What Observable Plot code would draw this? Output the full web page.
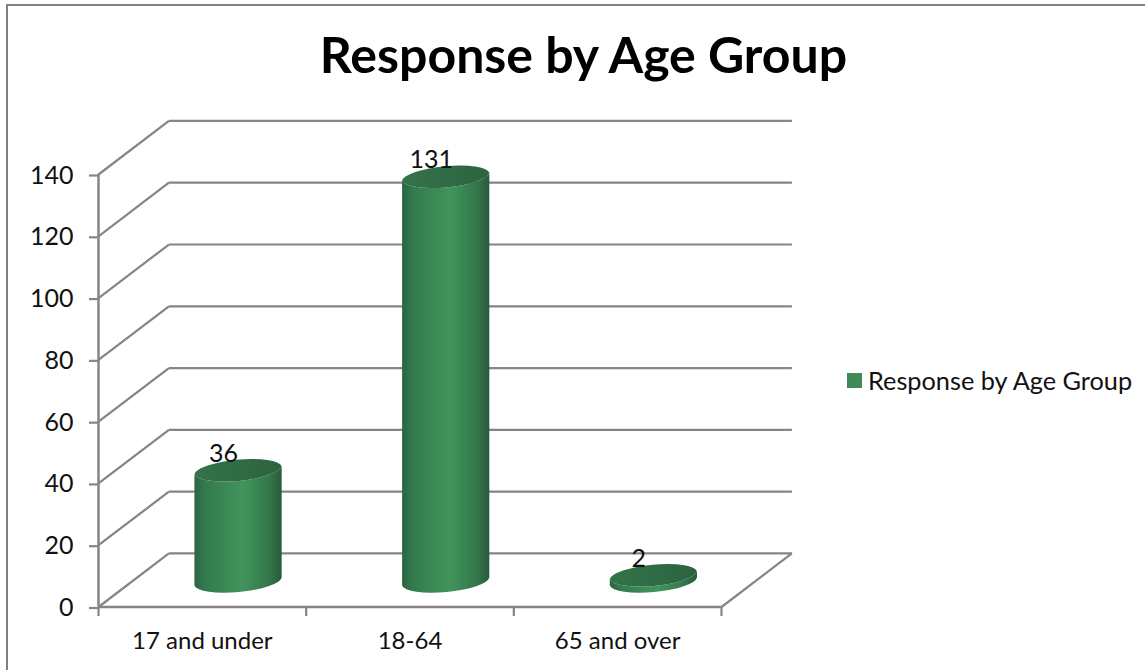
<!DOCTYPE html>
<html>
<head>
<meta charset="utf-8">
<script src="https://cdn.jsdelivr.net/npm/d3@7"></script>
<script src="https://cdn.jsdelivr.net/npm/@observablehq/plot@0.6"></script>
<style>
  html, body { margin: 0; padding: 0; background: #fff; }
  #chart { position: relative; width: 1145px; height: 670px; overflow: hidden; font-family: Lato, sans-serif; color: #111; }
  #edge { position: absolute; left: 6px; top: 4px; right: -4px; bottom: -4px; border-left: 2.5px solid #808080; border-top: 2.5px solid #808080; }
  #title { position: absolute; left: 583.5px; top: 26px; transform: translateX(-50%); white-space: nowrap; font-size: 50px; font-weight: 700; line-height: 56px; color: #000; }
  #legend { position: absolute; left: 847px; top: 364px; display: flex; align-items: center; gap: 6px; font-size: 25.3px; line-height: 32px; white-space: nowrap; }
  #legend i { display: block; width: 15px; height: 15px; background: #3f8a57; }
  svg { position: absolute; left: 0; top: 0; }
</style>
</head>
<body>
<div id="chart">
  <div id="edge"></div>
  <div id="title">Response by Age Group</div>
  <div id="legend"><i></i><span>Response by Age Group</span></div>
</div>
<script>
// Survey responses per age bracket
const categories = ["17 and under", "18-64", "65 and over"];
const responses = [36, 131, 2];
const valueTicks = [0, 20, 40, 60, 80, 100, 120, 140];
const edgeTicks = [-0.5, 0.5, 1.5, 2.5];

// Depth of the 3D box, in data units of each axis
const depthX = 0.339;
const depthY = 17.34;
const barWidth = 0.42;
const floorLift = 8.1;
const tilt = 4;
const gridColor = "#858585";

const rows = categories.map((name, i) => ({name, i, value: responses[i]}));

// Draws each bar as a tilted cylinder from the rectangle the scales produce
function cylinders(index, scales, values) {
  const g = d3.create("svg:g").attr("transform", "translate(1,0)");
  const {x1: X1, x2: X2, y1: Y1, y2: Y2} = values;
  for (const i of index) {
    const left = X1[i], right = X2[i], base = Y1[i], top = Y2[i];
    const rx = (right - left) / 2 + 0.3, ry = 11.5, rot = -5.3;
    g.append("path")
      .attr("fill", "url(#cyl-side)")
      .attr("d", `M${left},${top + tilt}L${left},${base + tilt}A${rx},${ry} ${rot} 0 0 ${right},${base - tilt}L${right},${top - tilt}A${rx},${ry} ${rot} 0 1 ${left},${top + tilt}Z`);
    g.append("path")
      .attr("fill", "url(#cyl-top)")
      .attr("d", `M${left},${top + tilt}A${rx},${ry} ${rot} 0 1 ${right},${top - tilt}A${rx},${ry} ${rot} 0 1 ${left},${top + tilt}Z`);
  }
  return g.node();
}

const plot = Plot.plot({
  width: 1145,
  height: 670,
  marginLeft: 98,
  marginRight: 424,
  marginTop: 174,
  marginBottom: 63.5,
  style: {background: "transparent", fontFamily: "Lato, sans-serif", overflow: "visible"},
  x: {domain: [-0.5, 2.5], axis: null},
  y: {domain: [0, 140], axis: null},
  marks: [
    // Back wall gridlines
    Plot.link(valueTicks, {x1: -0.5 + depthX, x2: 2.5 + depthX, y1: d => d + depthY, y2: d => d + depthY, stroke: gridColor, strokeWidth: 2.2}),
    // Side wall lines
    Plot.link(valueTicks, {x1: -0.5, x2: -0.5 + depthX, y1: d => d, y2: d => d + depthY, stroke: gridColor, strokeWidth: 2.2}),
    // Floor edges
    Plot.link([0], {x1: 2.5, x2: 2.5 + depthX, y1: 0, y2: depthY, stroke: gridColor, strokeWidth: 2.2}),
    Plot.ruleY([0], {stroke: gridColor, strokeWidth: 2.5}),
    Plot.ruleX([-0.5], {y1: 0, y2: 140, stroke: gridColor, strokeWidth: 2.5}),
    // Axes
    Plot.axisY({ticks: valueTicks, tickSize: 9, tickPadding: 16, stroke: gridColor, strokeWidth: 2.2, strokeOpacity: 1, fontSize: 25, fill: "#111", label: null, tickFormat: d => d, dy: 1}),
    Plot.axisX({ticks: edgeTicks, tickSize: 9.5, stroke: gridColor, strokeWidth: 2.2, strokeOpacity: 1, label: null, tickFormat: () => null}),
    Plot.axisX({ticks: categories.map((d, i) => i), tickSize: 0, tickPadding: 25, fontSize: 24, fill: "#111", label: null, tickFormat: i => categories[i]}),
    // Cylinders
    Plot.rect(rows, {
      x1: d => d.i + depthX / 2 - barWidth / 2,
      x2: d => d.i + depthX / 2 + barWidth / 2,
      y1: floorLift,
      y2: d => d.value + floorLift,
      render: cylinders
    }),
    // Value labels
    Plot.text(rows, {x: d => d.i + depthX / 2, y: d => d.value + floorLift, text: d => String(d.value), dx: -14, dy: -17, fontSize: 25, fill: "#111"})
  ]
});

// Gradients for the cylinder shading
const defs = d3.select(plot).insert("defs", ":first-child");
const side = defs.append("linearGradient").attr("id", "cyl-side");
[[0, "#2c6441"], [0.12, "#347a4e"], [0.55, "#41945b"], [0.85, "#33784c"], [1, "#28593a"]]
  .forEach(([o, c]) => side.append("stop").attr("offset", o).attr("stop-color", c));
const topFace = defs.append("linearGradient").attr("id", "cyl-top");
[[0, "#33734a"], [1, "#2c6440"]]
  .forEach(([o, c]) => topFace.append("stop").attr("offset", o).attr("stop-color", c));

document.getElementById("chart").insertBefore(plot, document.getElementById("title"));
</script>
</body>
</html>
